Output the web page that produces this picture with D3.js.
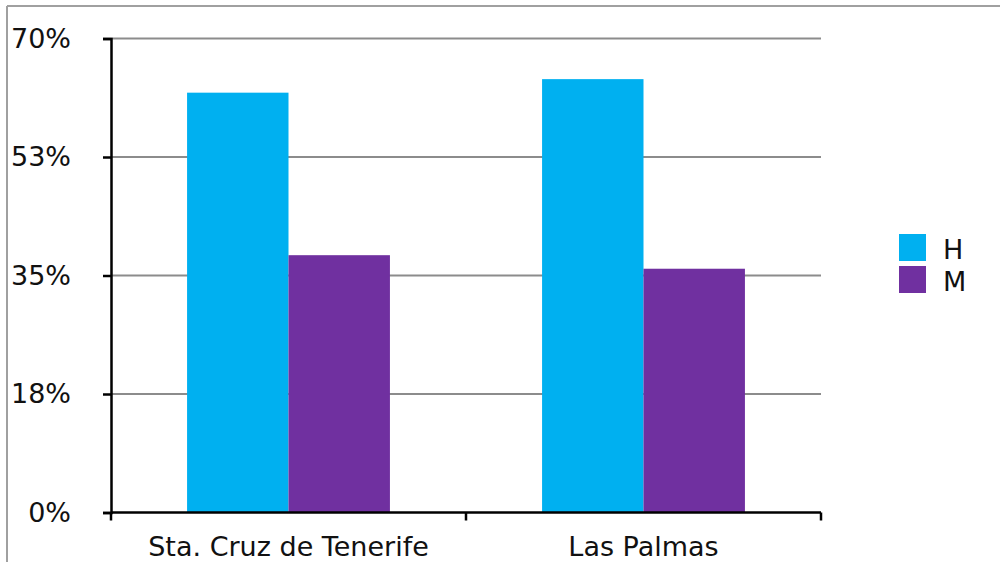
<!DOCTYPE html>
<html>
<head>
<meta charset="utf-8">
<script src="https://cdn.jsdelivr.net/npm/d3@7"></script>
<style>
  html, body { margin: 0; padding: 0; background: #fff; }
  svg { display: block; font-family: "DejaVu Sans", Verdana, sans-serif; }
</style>
</head>
<body>
<svg id="chart" width="1000" height="562"></svg>
<script>
// Chart data
const categories = ["Sta. Cruz de Tenerife", "Las Palmas"];
const seriesNames = ["H", "M"];
const valuesH = [62, 64];
const valuesM = [38, 36];
const yTickValues = [0, 17.5, 35, 52.5, 70];
const yTickLabels = ["0%", "18%", "35%", "53%", "70%"];
const seriesColors = ["#00B0F0", "#7030A0"];

const svg = d3.select("#chart");
const W = 1000, H = 562;
const plot = { left: 111, right: 821, top: 38.5, bottom: 512.5 };
const FONT = 27;

// Outer frame (top and left edges)
svg.append("line").attr("x1", 7).attr("x2", W).attr("y1", 6).attr("y2", 6)
  .attr("stroke", "#a0a0a0").attr("stroke-width", 2);
svg.append("line").attr("x1", 7).attr("x2", 7).attr("y1", 6).attr("y2", H)
  .attr("stroke", "#a0a0a0").attr("stroke-width", 2);

const x0 = d3.scaleBand().domain(categories).range([plot.left, plot.right]).paddingInner(0).paddingOuter(0);
const x1 = d3.scaleBand().domain(seriesNames).range([0, x0.bandwidth()]).paddingInner(0).paddingOuter(0.75);
const y = d3.scaleLinear().domain([0, 70]).range([plot.bottom, plot.top]);

// Horizontal gridlines
svg.append("g").selectAll("line").data(yTickValues.filter(d => d > 0)).join("line")
  .attr("x1", plot.left).attr("x2", plot.right)
  .attr("y1", d => y(d)).attr("y2", d => y(d))
  .attr("stroke", "#8c8c8c").attr("stroke-width", 2);

// Bars
const rows = categories.map((c, i) => ({ cat: c, vals: [valuesH[i], valuesM[i]] }));
svg.append("g").selectAll("g").data(rows).join("g")
  .attr("transform", d => `translate(${x0(d.cat)},0)`)
  .selectAll("rect").data(d => d.vals.map((v, j) => ({ key: seriesNames[j], v, j })))
  .join("rect")
  .attr("x", d => x1(d.key))
  .attr("width", x1.bandwidth())
  .attr("y", d => y(d.v))
  .attr("height", d => y(0) - y(d.v))
  .attr("fill", d => seriesColors[d.j]);

// Y axis
const yAxis = d3.axisLeft(y).tickValues(yTickValues)
  .tickFormat((d, i) => yTickLabels[i]).tickSize(8).tickPadding(32);
const gy = svg.append("g").attr("transform", `translate(${plot.left},0)`).call(yAxis);
gy.select(".domain").attr("stroke", "#000").attr("stroke-width", 2.5);
gy.selectAll(".tick line").attr("stroke", "#000").attr("stroke-width", 2.5);
gy.selectAll(".tick text").attr("font-size", FONT).attr("fill", "#111")
  .attr("font-family", "DejaVu Sans, Verdana, sans-serif");

// X axis with ticks at band boundaries
const xAxis = d3.axisBottom(x0).tickSize(0).tickPadding(24);
const gx = svg.append("g").attr("transform", `translate(0,${plot.bottom})`).call(xAxis);
gx.select(".domain").remove();
gx.selectAll(".tick text").attr("font-size", FONT).attr("fill", "#111")
  .attr("font-family", "DejaVu Sans, Verdana, sans-serif");
gx.append("line").attr("x1", plot.left).attr("x2", plot.right).attr("y1", 0).attr("y2", 0)
  .attr("stroke", "#000").attr("stroke-width", 2.5);
const boundaries = categories.map(c => x0(c)).concat([x0(categories[categories.length - 1]) + x0.bandwidth()]);
gx.selectAll("line.bound").data(boundaries).join("line").attr("class", "bound")
  .attr("x1", d => d).attr("x2", d => d).attr("y1", 0).attr("y2", 8)
  .attr("stroke", "#000").attr("stroke-width", 2.5);

// Legend
const legend = svg.append("g").attr("transform", "translate(899,234)");
const li = legend.selectAll("g").data(seriesNames).join("g")
  .attr("transform", (d, i) => `translate(0,${i * 32})`);
li.append("rect").attr("width", 27).attr("height", 27).attr("fill", (d, i) => seriesColors[i]);
li.append("text").attr("x", 44).attr("y", 25).text(d => d)
  .attr("font-size", FONT).attr("fill", "#111");
</script>
</body>
</html>
